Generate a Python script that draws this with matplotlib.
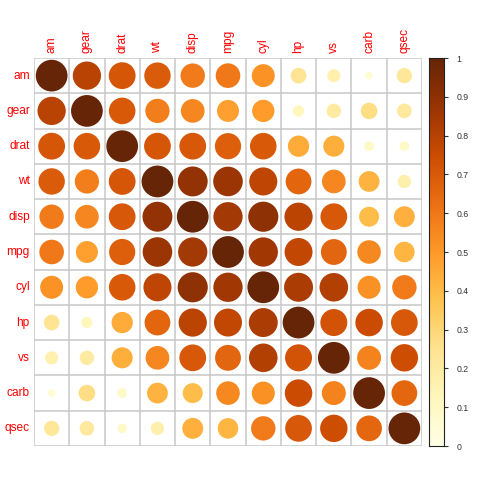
import matplotlib
matplotlib.use("Agg")
import matplotlib.pyplot as plt
from matplotlib.patches import Circle
import numpy as np

plt.rcParams["font.family"] = ["Liberation Sans", "DejaVu Sans"]

variables = ["am", "gear", "drat", "wt", "disp", "mpg", "cyl", "hp", "vs", "carb", "qsec"]
corr = [
    [1.000, 0.794, 0.713, 0.692, 0.591, 0.600, 0.523, 0.243, 0.168, 0.058, 0.230],
    [0.794, 1.000, 0.700, 0.583, 0.556, 0.480, 0.493, 0.126, 0.206, 0.274, 0.213],
    [0.713, 0.700, 1.000, 0.712, 0.710, 0.681, 0.700, 0.449, 0.440, 0.091, 0.091],
    [0.692, 0.583, 0.712, 1.000, 0.888, 0.868, 0.782, 0.659, 0.555, 0.428, 0.175],
    [0.591, 0.556, 0.710, 0.888, 1.000, 0.848, 0.902, 0.791, 0.710, 0.395, 0.434],
    [0.600, 0.480, 0.681, 0.868, 0.848, 1.000, 0.852, 0.776, 0.664, 0.551, 0.419],
    [0.523, 0.493, 0.700, 0.782, 0.902, 0.852, 1.000, 0.832, 0.811, 0.527, 0.591],
    [0.243, 0.126, 0.449, 0.659, 0.791, 0.776, 0.832, 1.000, 0.723, 0.750, 0.708],
    [0.168, 0.206, 0.440, 0.555, 0.710, 0.664, 0.811, 0.723, 1.000, 0.570, 0.745],
    [0.058, 0.274, 0.091, 0.428, 0.395, 0.551, 0.527, 0.750, 0.570, 1.000, 0.656],
    [0.230, 0.213, 0.091, 0.175, 0.434, 0.419, 0.591, 0.708, 0.745, 0.656, 1.000],
]
cbar_ticks = [0, 0.1, 0.2, 0.3, 0.4, 0.5, 0.6, 0.7, 0.8, 0.9, 1]

W = H = 480
fig = plt.figure(figsize=(4.8, 4.8), dpi=100)
cmap = plt.get_cmap("YlOrBr")
norm = matplotlib.colors.Normalize(0, 1)

gx0, gx1, gy0, gy1 = 34, 422, 58, 446
ax = fig.add_axes([gx0 / W, 1 - gy1 / H, (gx1 - gx0) / W, (gy1 - gy0) / H])
n = len(variables)
ax.set_xlim(0, n)
ax.set_ylim(n, 0)
ax.set_axis_off()

M = np.array(corr)
for i in range(n):
    for j in range(n):
        v = abs(M[i, j])
        ax.add_patch(Circle((j + 0.5, i + 0.5), 0.45 * np.sqrt(v),
                            facecolor=cmap(norm(v)), edgecolor="none", zorder=2))
for k in range(n + 1):
    ax.plot([k, k], [0, n], color="#c8c8c8", lw=1.1, zorder=1, solid_capstyle="butt")
    ax.plot([0, n], [k, k], color="#c8c8c8", lw=1.1, zorder=1, solid_capstyle="butt")

for k, name in enumerate(variables):
    ax.text(k + 0.5, -0.15, name, rotation=90, ha="center", va="bottom",
            color="#ff0000", fontsize=8.6)
    ax.text(-0.12, k + 0.5, name, ha="right", va="center",
            color="#ff0000", fontsize=8.6)

cax = fig.add_axes([429 / W, 1 - gy1 / H, 15 / W, (gy1 - gy0) / H])
grad = np.linspace(0, 1, 256).reshape(-1, 1)
cax.imshow(grad, aspect="auto", cmap=cmap, norm=norm, origin="lower",
           extent=[0, 1, 0, 1])
cax.set_xticks([])
cax.yaxis.tick_right()
cax.set_yticks(cbar_ticks)
cax.set_yticklabels([("%g" % t) for t in cbar_ticks], fontsize=6.3, color="#333333")
cax.tick_params(axis="y", length=3, width=0.8, pad=6, colors="#333333")
cax.tick_params(axis="y", labelcolor="#333333")
for s in cax.spines.values():
    s.set_linewidth(0.8)
    s.set_color("#222222")

fig.savefig("out.png", dpi=100)
